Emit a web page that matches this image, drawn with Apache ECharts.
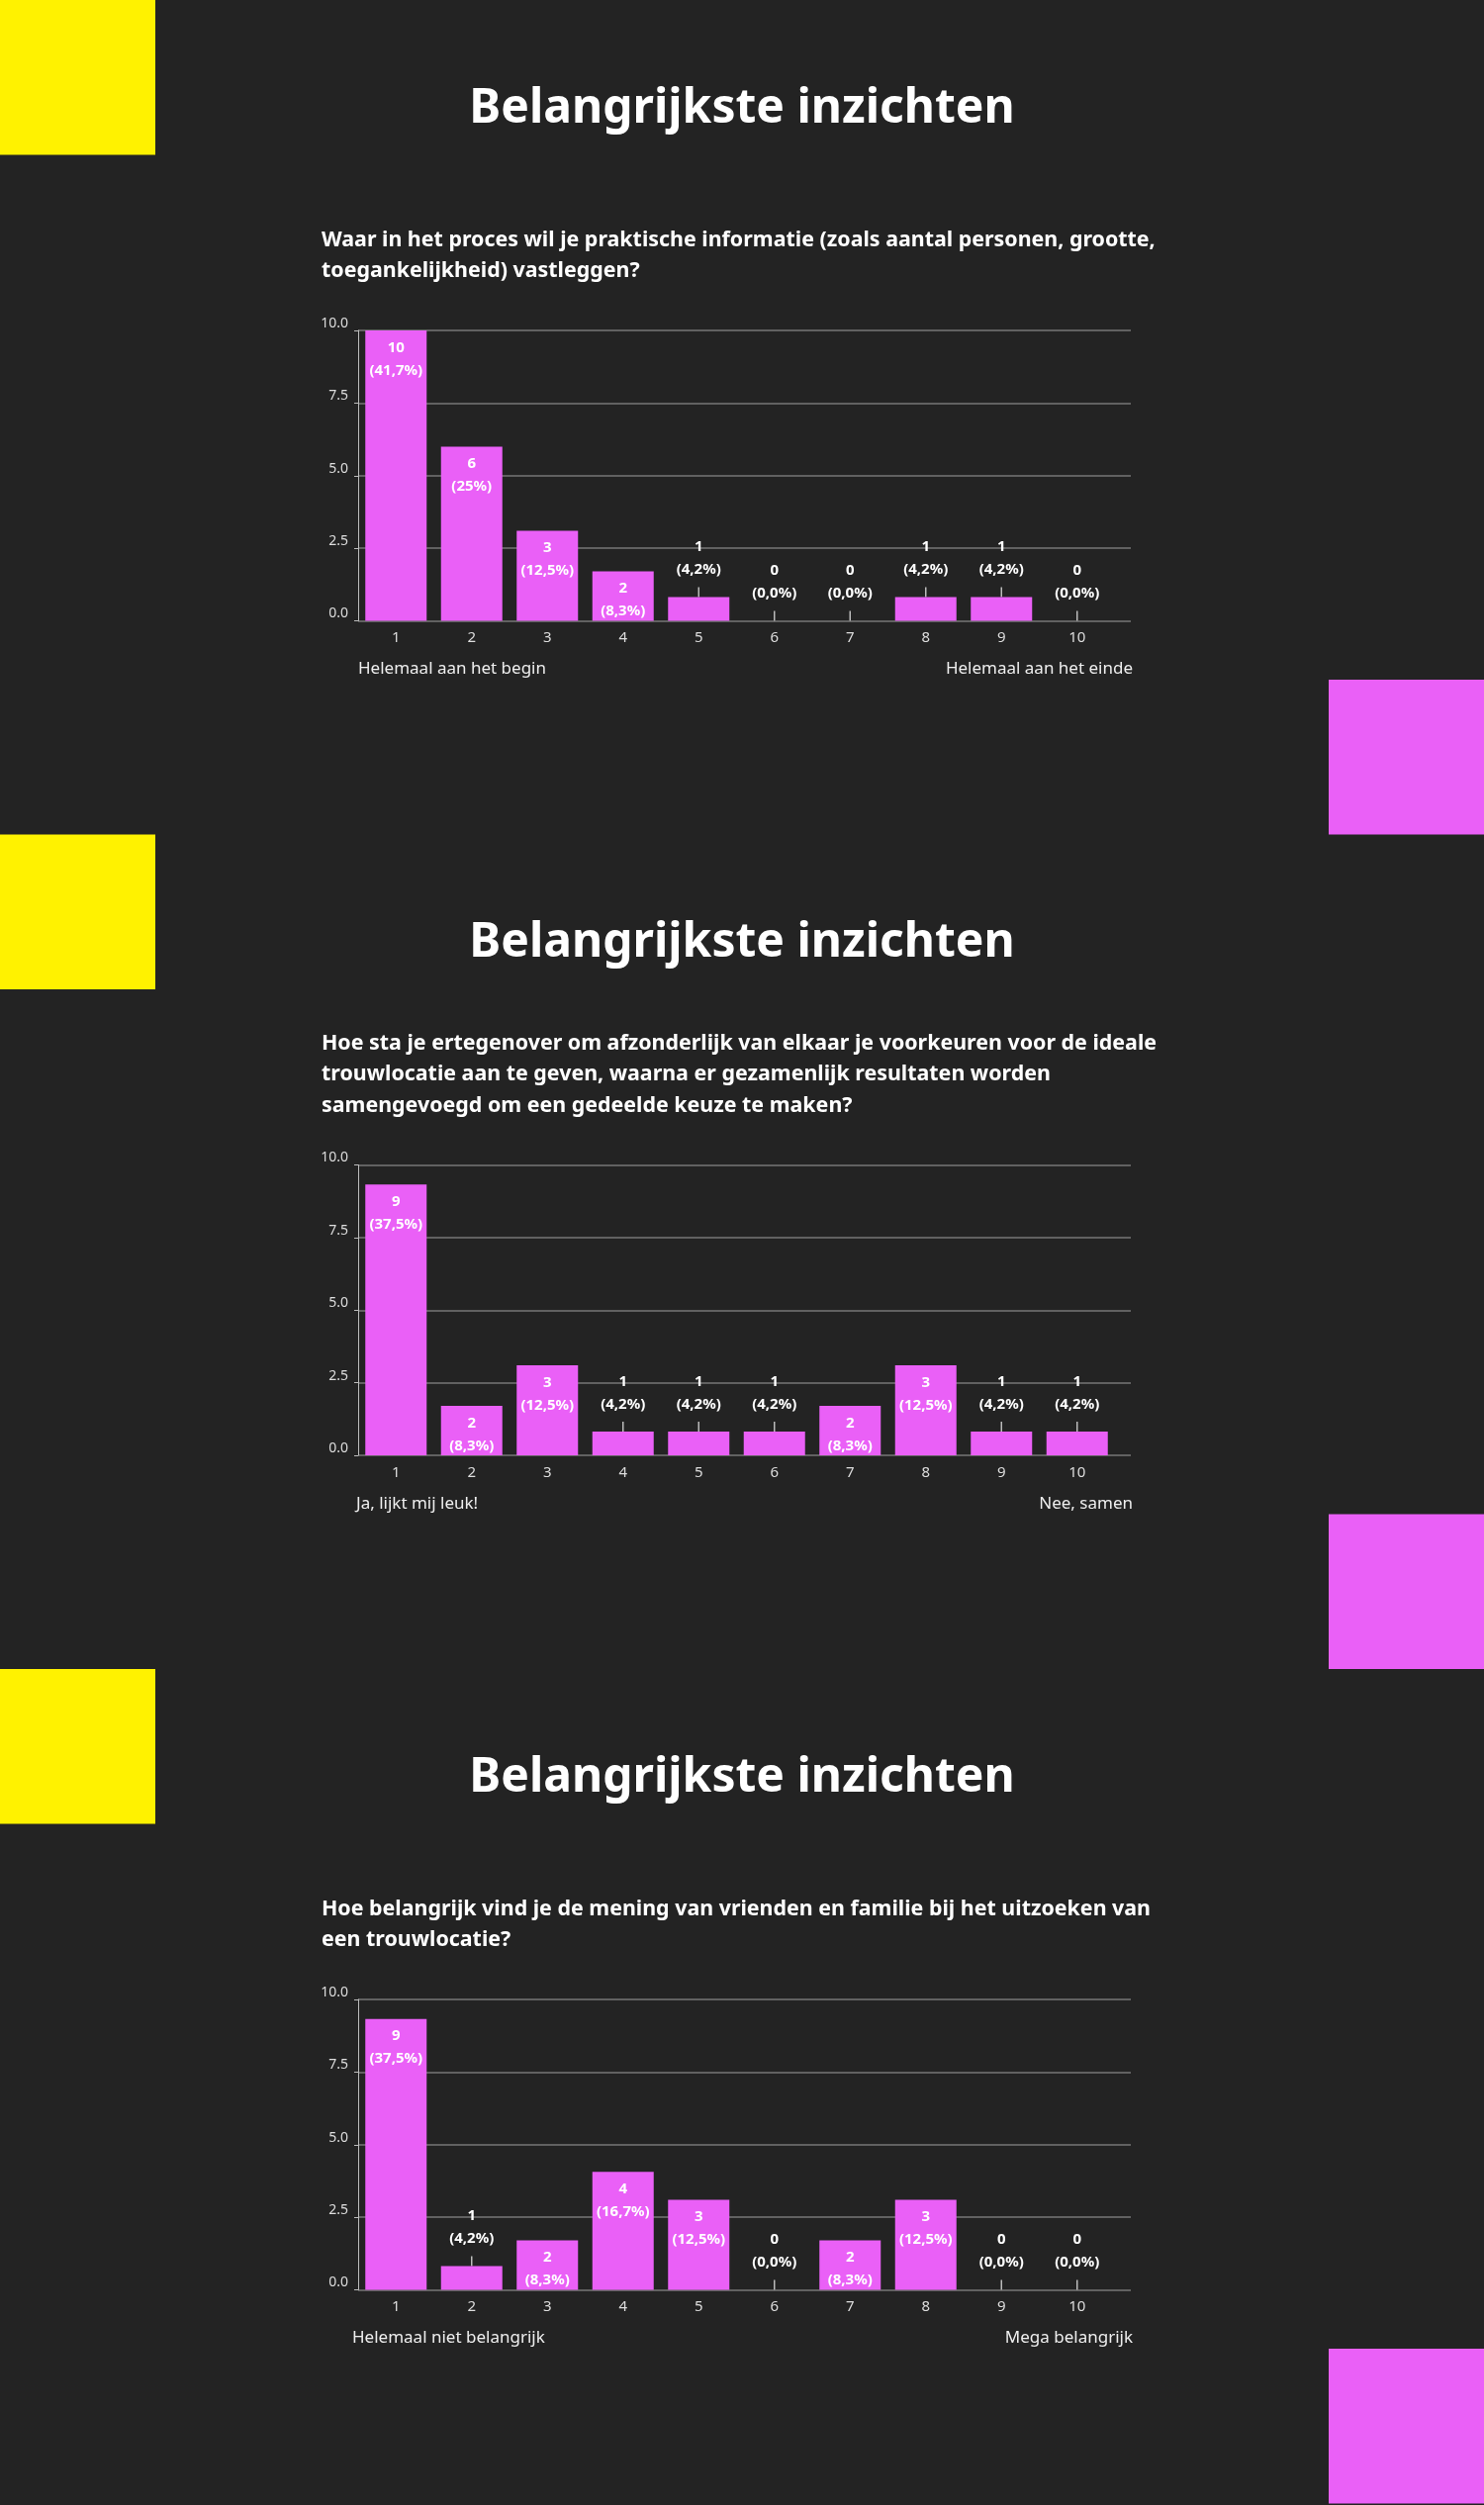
<!DOCTYPE html>
<html>
<head>
<meta charset="utf-8">
<title>Belangrijkste inzichten</title>
<script src="https://cdn.jsdelivr.net/npm/echarts@6/dist/echarts.min.js"></script>
<style>
  html, body { margin: 0; padding: 0; background: #232323; }
  #main { width: 1500px; height: 2532px; }
</style>
</head>
<body>
<div id="main"></div>
<script>
  // categories (scale 1..10)
  var categories = ['1', '2', '3', '4', '5', '6', '7', '8', '9', '10']
  var yTicks = [0, 2.5, 5, 7.5, 10]

  // question 1
  var q1Title = 'Waar in het proces wil je praktische informatie (zoals aantal personen, grootte,\ntoegankelijkheid) vastleggen?'
  var q1Heights = [10, 6, 3.1, 1.7, 0.82, 0, 0, 0.82, 0.82, 0]
  var q1Counts = [10, 6, 3, 2, 1, 0, 0, 1, 1, 0]
  var q1Pct = ['41,7%', '25%', '12,5%', '8,3%', '4,2%', '0,0%', '0,0%', '4,2%', '4,2%', '0,0%']
  var q1Ends = ['Helemaal aan het begin', 'Helemaal aan het einde']

  // question 2
  var q2Title = 'Hoe sta je ertegenover om afzonderlijk van elkaar je voorkeuren voor de ideale\ntrouwlocatie aan te geven, waarna er gezamenlijk resultaten worden\nsamengevoegd om een gedeelde keuze te maken?'
  var q2Heights = [9.33, 1.7, 3.1, 0.82, 0.82, 0.82, 1.7, 3.1, 0.82, 0.82]
  var q2Counts = [9, 2, 3, 1, 1, 1, 2, 3, 1, 1]
  var q2Pct = ['37,5%', '8,3%', '12,5%', '4,2%', '4,2%', '4,2%', '8,3%', '12,5%', '4,2%', '4,2%']
  var q2Ends = ['Ja, lijkt mij leuk!', 'Nee, samen']

  // question 3
  var q3Title = 'Hoe belangrijk vind je de mening van vrienden en familie bij het uitzoeken van\neen trouwlocatie?'
  var q3Heights = [9.33, 0.82, 1.7, 4.06, 3.1, 0, 1.7, 3.1, 0, 0]
  var q3Counts = [9, 1, 2, 4, 3, 0, 2, 3, 0, 0]
  var q3Pct = ['37,5%', '4,2%', '8,3%', '16,7%', '12,5%', '0,0%', '8,3%', '12,5%', '0,0%', '0,0%']
  var q3Ends = ['Helemaal niet belangrijk', 'Mega belangrijk']

  var sections = [
    { title: q1Title, heights: q1Heights, counts: q1Counts, pct: q1Pct, ends: q1Ends, endX: 362 },
    { title: q2Title, heights: q2Heights, counts: q2Counts, pct: q2Pct, ends: q2Ends, endX: 360 },
    { title: q3Title, heights: q3Heights, counts: q3Counts, pct: q3Pct, ends: q3Ends, endX: 356 }
  ]

  var PINK = '#EA60F7'
  var YELLOW = '#FFF200'
  var FONT = '"Noto Sans"'
  var SEC_H = 843.5

  var chart = echarts.init(document.getElementById('main'))

  var grids = [], xAxes = [], yAxes = [], series = [], graphics = []

  sections.forEach(function (sec, s) {
    var oy = s * SEC_H
    var gA = s * 2, gB = s * 2 + 1

    // grid A: gridlines + y labels, a bit wider than the bars
    grids.push({ left: 362, top: oy + 334, width: 781, height: 293.5 })
    // grid B: the bars
    grids.push({ left: 362, top: oy + 334, width: 765, height: 293.5 })

    xAxes.push({ gridIndex: gA, type: 'value', show: false, min: 0, max: 1 })
    xAxes.push({
      gridIndex: gB, type: 'category', data: categories,
      axisLine: { show: false }, axisTick: { show: false },
      axisLabel: { color: '#dddddd', fontSize: 15, fontFamily: 'Noto Sans', margin: 10 }
    })

    yAxes.push({
      gridIndex: gA, type: 'value', min: yTicks[0], max: yTicks[yTicks.length - 1], interval: 2.5,
      axisLine: { show: true, lineStyle: { color: '#bbbbbb', width: 1 } },
      axisTick: { show: true, length: 4, lineStyle: { color: '#bbbbbb' } },
      axisLabel: {
        color: '#dddddd', fontSize: 14, fontFamily: 'Noto Sans', margin: 10,
        verticalAlign: 'bottom',
        formatter: function (v) { return v.toFixed(1) }
      },
      splitLine: { show: true, lineStyle: { color: '#777777', width: 1.5 } }
    })
    yAxes.push({ gridIndex: gB, type: 'value', min: 0, max: 10, show: false, splitLine: { show: false } })

    var data = sec.heights.map(function (h, i) {
      var inside = sec.counts[i] >= 2
      return {
        value: h,
        label: {
          show: true,
          position: inside ? 'insideTop' : 'top',
          distance: inside ? 6 : 16,
          formatter: sec.counts[i] + '\n(' + sec.pct[i] + ')',
          color: '#ffffff', fontWeight: 'bold', fontSize: 15, lineHeight: 23, fontFamily: 'Noto Sans'
        }
      }
    })

    series.push({
      type: 'bar', xAxisIndex: gB, yAxisIndex: gB,
      barWidth: 62, data: data,
      itemStyle: { color: PINK },
      silent: true, animation: false
    })

    // leader ticks above the small bars
    var leaders = []
    sec.counts.forEach(function (c, i) {
      if (c < 2) leaders.push([i, sec.heights[i]])
    })
    series.push({
      type: 'custom', xAxisIndex: gB, yAxisIndex: gB,
      data: leaders, animation: false, silent: true,
      renderItem: function (params, api) {
        var p = api.coord([api.value(0), api.value(1)])
        return {
          type: 'line',
          shape: { x1: p[0], y1: p[1] - 10, x2: p[0], y2: p[1] },
          style: { stroke: '#bbbbbb', lineWidth: 1.5 }
        }
      }
    })

    // decorations + texts
    graphics.push({ type: 'rect', shape: { x: 0, y: oy, width: 157, height: 156.5 }, style: { fill: YELLOW } })
    graphics.push({ type: 'rect', shape: { x: 1343, y: oy + 687, width: 157, height: 156.5 }, style: { fill: PINK } })
    graphics.push({
      type: 'text', x: 750, y: oy + 110,
      style: { text: 'Belangrijkste inzichten', fill: '#ffffff', font: 'bold 48px ' + FONT, align: 'center', verticalAlign: 'middle' }
    })
    graphics.push({
      type: 'text', x: 325, y: oy + 290,
      style: { text: sec.title, fill: '#ffffff', font: 'bold 21.4px ' + FONT, lineHeight: 31.5, align: 'left', verticalAlign: 'bottom' }
    })
    graphics.push({
      type: 'text', x: sec.endX, y: oy + 676.5,
      style: { text: sec.ends[0], fill: '#eeeeee', font: '17px ' + FONT, align: 'left', verticalAlign: 'middle' }
    })
    graphics.push({
      type: 'text', x: 1145, y: oy + 676.5,
      style: { text: sec.ends[1], fill: '#eeeeee', font: '17px ' + FONT, align: 'right', verticalAlign: 'middle' }
    })
  })

  chart.setOption({
    backgroundColor: '#232323',
    animation: false,
    grid: grids,
    xAxis: xAxes,
    yAxis: yAxes,
    series: series,
    graphic: graphics
  })
</script>
</body>
</html>
